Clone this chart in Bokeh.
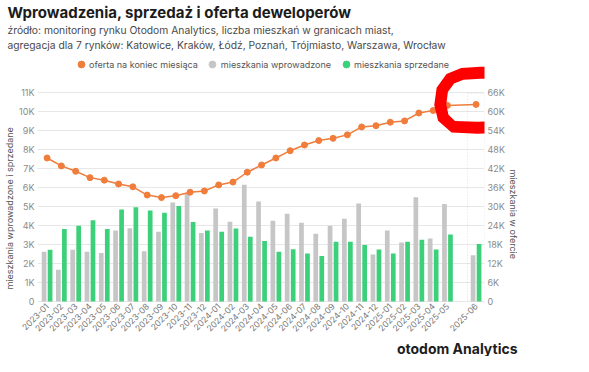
import numpy as np
from bokeh.plotting import figure
from bokeh.models import (Range1d, LinearAxis, FixedTicker, Legend, LegendItem, Title,
                          BoxAnnotation, PolyAnnotation, ColumnDataSource)
from bokeh.embed import file_html
from bokeh.resources import INLINE

# ---------------- data ----------------
months = ["2023-01", "2023-02", "2023-03", "2023-04", "2023-05", "2023-06",
          "2023-07", "2023-08", "2023-09", "2023-10", "2023-11", "2023-12",
          "2024-01", "2024-02", "2024-03", "2024-04", "2024-05", "2024-06",
          "2024-07", "2024-08", "2024-09", "2024-10", "2024-11", "2024-12",
          "2025-01", "2025-02", "2025-03", "2025-04", "2025-05", "2025-06"]
introduced = [2620, 1670, 2720, 2620, 2550, 3740, 3860, 2650, 3670, 5210,
              5670, 3600, 4890, 4190, 6140, 5260, 4250, 4620, 4140, 3570,
              3990, 4350, 5160, 2470, 3740, 3110, 5480, 3310, 5130, 2430]
sold = [2720, 3820, 3990, 4280, 3820, 4840, 4960, 4790, 4670, 5030,
        4180, 3740, 3670, 3840, 3400, 3180, 2620, 2750, 2530, 2400,
        3140, 3140, 2970, 2740, 2520, 3140, 3250, 2740, 3520, 3030]
offer = [45300, 42800, 41100, 39100, 38300, 37100, 36200, 33600, 32800, 33400,
         34500, 34900, 36800, 37700, 40800, 43100, 45300, 47600, 49400, 50800,
         51500, 52600, 55100, 55500, 56600, 57000, 59500, 60300, 61900, 62200]
left_ticks = [0, 1000, 2000, 3000, 4000, 5000, 6000, 7000, 8000, 9000, 10000, 11000]
left_tick_labels = ["0", "1K", "2K", "3K", "4K", "5K", "6K", "7K", "8K", "9K", "10K", "11K"]
right_ticks = [0, 6000, 12000, 18000, 24000, 30000, 36000, 42000, 48000, 54000, 60000, 66000]
right_tick_labels = ["0", "6K", "12K", "18K", "24K", "30K", "36K", "42K", "48K", "54K", "60K", "66K"]

TITLE = "Wprowadzenia, sprzedaż i oferta deweloperów"
SUB1 = "źródło: monitoring rynku Otodom Analytics, liczba mieszkań w granicach miast,"
SUB2 = "agregacja dla 7 rynków: Katowice, Kraków, Łódź, Poznań, Trójmiasto, Warszawa, Wrocław"
LEGEND_LABELS = ["oferta na koniec miesiąca", "mieszkania wprowadzone", "mieszkania sprzedane"]
Y_LEFT_TITLE = "mieszkania wprowadzone i sprzedane"
Y_RIGHT_TITLE = "mieszkania w ofercie"
LOGO = "otodom Analytics"

# ---------------- layout ----------------
W, H = 573, 356
FONT = "Inter"
ORANGE = "#f07d3b"
GREY = "#c6c6c6"
GREEN = "#3dd07a"
X_PAD_L, X_PAD_R = 0.67, 0.59
PPY = 0.019045          # px per unit of the left axis
PPX = 14.26             # px per category slot
Y_LO, Y_HI = -52.5, 13205.0
RATIO = 6.0

pos = [float(i) for i in range(len(months))]
pos[-1] += 1.0
X_LO, X_HI = pos[0] - X_PAD_L, pos[-1] + X_PAD_R

src = ColumnDataSource(dict(
    x_int=[x - 0.21 for x in pos], x_sold=[x + 0.21 for x in pos], pos=pos,
    introduced=introduced, sold=sold, offer=offer))

p = figure(width=W, height=H, title=None, toolbar_location=None, output_backend="svg",
           x_range=Range1d(X_LO, X_HI), y_range=Range1d(Y_LO, Y_HI),
           min_border_left=30, min_border_right=89, min_border_top=0, min_border_bottom=0)
p.outline_line_color = None
p.background_fill_color = "white"
p.border_fill_color = "white"
p.extra_y_ranges = {"offer": Range1d(Y_LO * RATIO, Y_HI * RATIO)}

# grid
p.xgrid.visible = False
p.ygrid.ticker = FixedTicker(ticks=left_ticks)
p.ygrid.grid_line_color = "#e7e7e7"

# bars
p.vbar(x="x_int", top="introduced", width=0.33, source=src, fill_color=GREY, line_color=None)
p.vbar(x="x_sold", top="sold", width=0.33, source=src, fill_color=GREEN, line_color=None)

# dotted frame around the last month
last = pos[-1]
p.add_layout(BoxAnnotation(left=last - 0.59, right=last + 0.59, bottom=-320, top=10950,
                           fill_alpha=0, line_color="#8f8f8f", line_dash="1 2", line_width=1))

# offer line
p.line(x="pos", y="offer", source=src, y_range_name="offer", line_color=ORANGE, line_width=1.5)
r_off = p.scatter(x="pos", y="offer", source=src, y_range_name="offer", size=6,
                  fill_color=ORANGE, line_color=ORANGE)

# legend (circles) in the top strip of the frame
lg_int = p.scatter(x=[float("nan")], y=[float("nan")], marker="circle", fill_color=GREY, line_color=GREY)
lg_sold = p.scatter(x=[float("nan")], y=[float("nan")], marker="circle", fill_color=GREEN, line_color=GREEN)
legend = Legend(items=[LegendItem(label=LEGEND_LABELS[0], renderers=[r_off], index=0),
                       LegendItem(label=LEGEND_LABELS[1], renderers=[lg_int], index=0),
                       LegendItem(label=LEGEND_LABELS[2], renderers=[lg_sold], index=0)],
                orientation="horizontal", location="top_center",
                border_line_color=None, background_fill_alpha=0,
                label_text_font=FONT, label_text_font_size="9px", label_text_color="#555555",
                glyph_width=17, glyph_height=20, label_standoff=0, spacing=6,
                padding=0, margin=4)
p.add_layout(legend, "center")

# header titles (added from the plot outward)
p.add_layout(Title(text=SUB2, text_font=FONT, text_font_size="10.3px", text_font_style="normal",
                   text_color="#4a4a4a", align="left", offset=-30, standoff=0), "above")
p.add_layout(Title(text=SUB1, text_font=FONT, text_font_size="10.3px", text_font_style="normal",
                   text_color="#4a4a4a", align="left", offset=-30, standoff=1), "above")
p.add_layout(Title(text=TITLE, text_font=FONT, text_font_size="15px", text_font_style="bold",
                   text_color="#1c1c1c", align="left", offset=-30, standoff=0), "above")


def style_axis(ax):
    ax.axis_line_color = None
    ax.major_tick_line_color = None
    ax.minor_tick_line_color = None
    ax.major_tick_out = 0
    ax.minor_tick_out = 0
    ax.major_label_text_font = FONT
    ax.major_label_text_font_size = "9px"
    ax.major_label_text_color = "#8a8a8a"


ly = p.yaxis[0]
style_axis(ly)
ly.ticker = FixedTicker(ticks=left_ticks)
ly.major_label_overrides = {t: s for t, s in zip(left_ticks, left_tick_labels)}
ly.major_label_standoff = 3

ry = LinearAxis(y_range_name="offer", ticker=FixedTicker(ticks=right_ticks))
style_axis(ry)
ry.major_label_overrides = {t: s for t, s in zip(right_ticks, right_tick_labels)}
ry.major_label_standoff = 3
p.add_layout(ry, "right")

# axis titles as side titles
p.add_layout(Title(text=Y_LEFT_TITLE, text_font=FONT, text_font_size="9px",
                   text_font_style="normal", text_color="#555555", align="left",
                   offset=13, standoff=3), "left")
p.add_layout(Title(text=Y_RIGHT_TITLE, text_font=FONT, text_font_size="9px",
                   text_font_style="normal", text_color="#555555", align="left",
                   offset=119, standoff=1), "right")

xa = p.xaxis[0]
style_axis(xa)
xa.ticker = FixedTicker(ticks=pos)
xa.major_label_overrides = {x: m for x, m in zip(pos, months)}
xa.major_label_orientation = float(np.pi / 4)
xa.major_label_text_font_size = "8.5px"
xa.major_label_text_color = "#777777"
xa.major_label_standoff = 2

# red hand-drawn highlight, drawn as offsets (px) around the last offer point
red_path = [(508, 72), (488, 72), (470, 73), (458, 78), (450, 89), (448, 104), (451, 117),
            (461, 126), (485, 127), (515, 126), (540, 122), (556, 116), (565, 104),
            (566, 90), (561, 77), (550, 69), (538, 66), (526, 68)]
RED_ANCHOR = (483.7, 103.7)   # where the highlighted point sits in that path's pixel frame


def stroke_polygon(pts, w):
    pts = np.array(pts, dtype=float)
    t = np.zeros_like(pts)
    t[1:-1] = pts[2:] - pts[:-2]
    t[0] = pts[1] - pts[0]
    t[-1] = pts[-1] - pts[-2]
    t /= np.linalg.norm(t, axis=1)[:, None]
    nrm = np.stack([-t[:, 1], t[:, 0]], axis=1)
    r = w / 2.0
    left = pts + nrm * r
    right = pts - nrm * r
    s = np.linspace(0, np.pi, 12)
    end_cap = [pts[-1] + r * (nrm[-1] * np.cos(a) + t[-1] * np.sin(a)) for a in s]
    start_cap = [pts[0] + r * (-nrm[0] * np.cos(a) - t[0] * np.sin(a)) for a in s]
    poly = np.array(list(left) + end_cap + list(right[::-1]) + start_cap)
    ax_, ay_ = pos[-1], offer[-1] / RATIO
    xs = [float(ax_ + (v - RED_ANCHOR[0]) / PPX) for v in poly[:, 0]]
    ys = [float(ay_ - (v - RED_ANCHOR[1]) / PPY) for v in poly[:, 1]]
    return xs, ys


rxs, rys = stroke_polygon(red_path, 12)
p.add_layout(PolyAnnotation(xs=rxs, ys=rys, fill_color="#ff0000", fill_alpha=1.0,
                            line_color=None, level="overlay"))

# logo
p.add_layout(Title(text=LOGO, text_font=FONT, text_font_size="14px", text_font_style="bold",
                   text_color="#1d1d1d", align="right", offset=-33, standoff=0), "below")

open("out.html", "w").write(file_html(p, INLINE))
